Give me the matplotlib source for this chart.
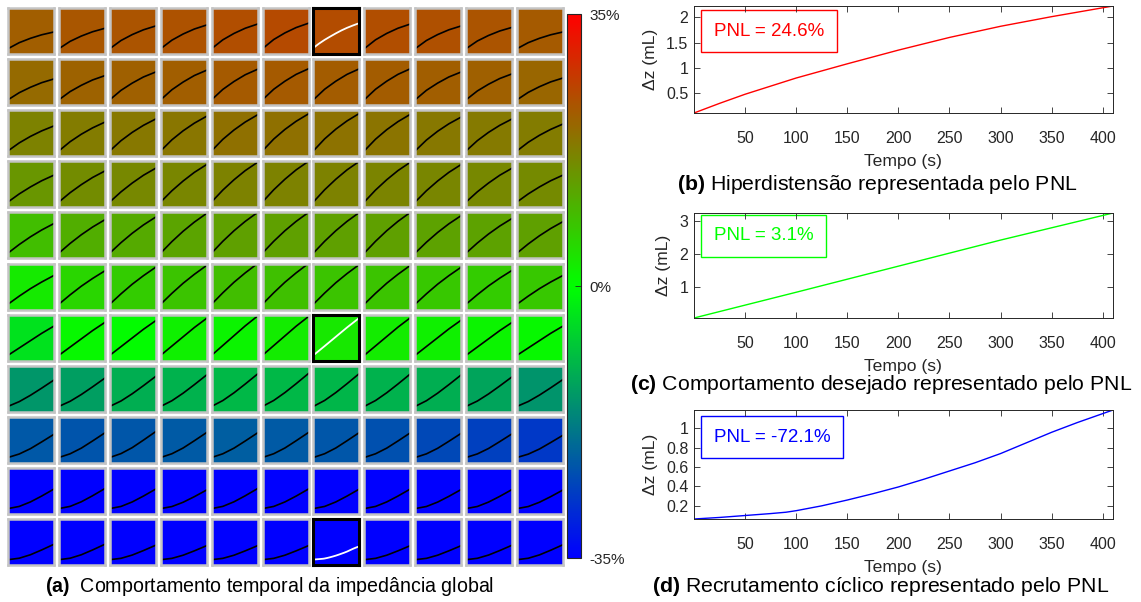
import numpy as np
import matplotlib.pyplot as plt
from matplotlib.colors import LinearSegmentedColormap, Normalize
from matplotlib.cm import ScalarMappable
from matplotlib.patches import Rectangle

plt.rcParams['font.family'] = ['Liberation Sans', 'DejaVu Sans']
plt.rcParams['mathtext.fontset'] = 'custom'
plt.rcParams['mathtext.rm'] = 'Liberation Sans'
plt.rcParams['mathtext.bf'] = 'Liberation Sans:bold'

# PNL (%) of every tile in the 11x11 grid (row 0 = top)
pnl = np.array([
    [22.0, 23.0, 23.3, 23.6, 24.3, 24.8, 24.6, 24.2, 23.8, 23.3, 22.5],
    [20.5, 21.5, 21.8, 22.0, 22.6, 22.6, 22.4, 22.2, 22.0, 21.8, 21.0],
    [17.2, 17.8, 18.5, 18.8, 19.5, 19.5, 19.3, 19.0, 18.5, 18.2, 17.8],
    [14.4, 15.8, 16.3, 16.5, 17.0, 17.0, 17.0, 16.8, 16.6, 16.4, 16.0],
    [8.9, 11.0, 11.7, 12.5, 13.0, 13.0, 13.0, 13.0, 12.6, 12.8, 13.0],
    [2.8, 5.5, 6.9, 8.2, 8.9, 8.5, 8.2, 8.0, 7.5, 6.9, 7.5],
    [-4.0, 1.0, 0.3, 2.0, 1.5, 2.5, 3.1, 2.5, 2.0, 1.5, 1.0],
    [-14.3, -13.3, -11.0, -10.5, -9.8, -9.8, -10.0, -10.5, -11.0, -12.5, -14.5],
    [-22.7, -23.3, -23.0, -22.5, -22.0, -22.5, -23.0, -24.0, -25.0, -26.0, -27.3],
    [-45, -47, -48, -50, -49, -50, -51, -50, -48, -46, -44],
    [-65, -66, -69, -70, -71, -72, -72.1, -71, -70, -68, -66],
])

# final delta-z (mL) of every tile curve
tile_end = np.array([
    [1.47, 1.78, 1.98, 2.06, 2.14, 2.21, 2.22, 2.14, 1.98, 1.86, 1.47],
    [1.82, 2.10, 2.41, 2.56, 2.64, 2.68, 2.68, 2.68, 2.41, 2.25, 1.90],
    [2.17, 2.49, 2.76, 2.99, 3.11, 3.19, 3.23, 3.15, 2.92, 2.76, 2.33],
    [2.33, 2.68, 2.92, 3.23, 3.42, 3.50, 3.50, 3.42, 3.23, 2.92, 2.33],
    [2.56, 2.88, 3.11, 3.42, 3.50, 3.50, 3.50, 3.50, 3.23, 2.99, 2.72],
    [2.49, 2.88, 3.19, 3.34, 3.50, 3.50, 3.42, 3.34, 3.19, 2.92, 2.49],
    [2.53, 2.84, 2.99, 3.19, 3.38, 3.34, 3.23, 3.23, 3.03, 2.84, 2.53],
    [2.29, 2.45, 2.60, 2.72, 2.80, 2.84, 2.84, 2.80, 2.72, 2.56, 2.33],
    [2.02, 2.14, 2.25, 2.17, 2.14, 2.17, 2.17, 2.14, 2.10, 2.06, 1.94],
    [1.71, 1.75, 1.71, 1.63, 1.75, 1.71, 1.71, 1.71, 1.67, 1.67, 1.63],
    [1.36, 1.36, 1.28, 1.24, 1.24, 1.24, 1.19, 1.24, 1.24, 1.28, 1.32],
])
tile_start = 0.05

# fraction of the rise reached at each tile time, one profile per row
tile_t = [0, 100, 200, 300, 410]
row_shape = np.array([
    [0, 0.36, 0.62, 0.83, 1],
    [0, 0.34, 0.60, 0.82, 1],
    [0, 0.32, 0.58, 0.80, 1],
    [0, 0.30, 0.56, 0.79, 1],
    [0, 0.29, 0.55, 0.78, 1],
    [0, 0.28, 0.54, 0.77, 1],
    [0, 0.25, 0.50, 0.75, 1],
    [0, 0.18, 0.42, 0.69, 1],
    [0, 0.15, 0.38, 0.67, 1],
    [0, 0.11, 0.34, 0.64, 1],
    [0, 0.095, 0.32, 0.63, 1],
])

# detail curves (b), (c), (d)
t_b = [0, 25, 50, 100, 150, 200, 250, 300, 350, 410]
z_b = [0.11, 0.30, 0.48, 0.80, 1.08, 1.35, 1.60, 1.82, 2.01, 2.22]
t_c = [0, 100, 200, 300, 410]
z_c = [0.05, 0.83, 1.62, 2.41, 3.23]
t_d = [0, 25, 50, 75, 90, 100, 125, 150, 175, 200, 225, 250, 275, 300, 325, 350, 375, 410]
z_d = [0.064, 0.08, 0.10, 0.12, 0.134, 0.15, 0.20, 0.26, 0.325, 0.395, 0.475, 0.56,
       0.645, 0.74, 0.85, 0.96, 1.06, 1.19]

highlight = {(0, 6): (t_b, z_b), (6, 6): (t_c, z_c), (10, 6): (t_d, z_d)}

W, H = 1141, 602
fig = plt.figure(figsize=(W / 100, H / 100), dpi=100)


def rect(x0, y0, w, h):
    return [x0 / W, 1 - (y0 + h) / H, w / W, h / H]


cmap = LinearSegmentedColormap.from_list('pnl', [(0, 0, 1), (0, 1, 0), (1, 0, 0)])
norm = Normalize(-35, 35, clip=True)

# grid of tiles
for r in range(11):
    for c in range(11):
        ax = fig.add_axes(rect(8 + c * 50.9, 8 + r * 51.1, 46, 46))
        ax.set_facecolor(cmap(norm(pnl[r, c])))
        if (r, c) in highlight:
            tt, zz = highlight[(r, c)]
            ax.plot(tt, zz, color='white', lw=1.3)
            ec, lw = 'black', 2.2
        else:
            zz = tile_start + (tile_end[r, c] - tile_start) * row_shape[r]
            ax.plot(tile_t, zz, color='black', lw=1.2)
            ec, lw = '#c4c4c4', 1.8
        ax.set_xlim(0, 410)
        ax.set_ylim(-0.4, 3.5)
        ax.set_xticks([])
        ax.set_yticks([])
        for s in ax.spines.values():
            s.set_color(ec)
            s.set_linewidth(lw)

# colorbar
cax = fig.add_axes(rect(567, 14, 14, 544))
cb = fig.colorbar(ScalarMappable(norm=norm, cmap=cmap), cax=cax)
cb.set_ticks([-35, 0, 35])
cb.set_ticklabels(['-35%', '0%', '35%'])
cax.tick_params(direction='in', length=4, width=0.6, labelsize=11,
                colors='#262626', pad=6)
cb.outline.set_linewidth(0.8)
cb.outline.set_edgecolor('#262626')

fig.text(270 / W, 1 - 587 / H,
         r'$\mathbf{(a)}$  Comportamento temporal da impedância global',
         ha='center', va='center', fontsize=14.1)

# detail panels
panels = [
    dict(box=(694, 6, 419, 107), t=t_b, z=z_b, color=(1, 0, 0),
         yticks=[0.5, 1, 1.5, 2], ylabels=['0.5', '1', '1.5', '2'],
         label='PNL = 24.6%', tbox=(701, 10, 136, 42),
         cap=r'$\mathbf{(b)}$ Hiperdistensão representada pelo PNL', capx=877, capy=184),
    dict(box=(694, 213, 419, 105), t=t_c, z=z_c, color=(0, 1, 0),
         yticks=[1, 2, 3], ylabels=['1', '2', '3'],
         label='PNL = 3.1%', tbox=(701, 215, 125, 42),
         cap=r'$\mathbf{(c)}$ Comportamento desejado representado pelo PNL', capx=881, capy=384),
    dict(box=(694, 410, 419, 109), t=t_d, z=z_d, color=(0, 0, 1),
         yticks=[0.2, 0.4, 0.6, 0.8, 1], ylabels=['0.2', '0.4', '0.6', '0.8', '1'],
         label='PNL = -72.1%', tbox=(701, 416, 142, 42),
         cap=r'$\mathbf{(d)}$ Recrutamento cíclico representado pelo PNL', capx=881, capy=587),
]

for p in panels:
    bx, by, bw, bh = p['box']
    ax = fig.add_axes(rect(bx, by, bw, bh))
    ax.plot(p['t'], p['z'], color=p['color'], lw=1.0)
    ax.set_xlim(0, 410)
    ax.set_ylim(p['z'][0], p['z'][-1])
    ax.set_xticks([50, 100, 150, 200, 250, 300, 350, 400])
    ax.set_yticks(p['yticks'])
    ax.set_yticklabels(p['ylabels'])
    ax.tick_params(direction='in', top=True, right=True, length=4, width=0.6,
                   labelsize=11.5, colors='#262626')
    ax.tick_params(axis='x', pad=13)
    ax.tick_params(axis='y', pad=4)
    for s in ax.spines.values():
        s.set_color('#262626')
        s.set_linewidth(0.7)
    ax.set_xlabel('Tempo (s)', fontsize=12.6, color='#262626', labelpad=6)
    ax.set_ylabel('Δz (mL)', fontsize=12.6, color='#262626', labelpad=6)
    tx, ty, tw, th = p['tbox']
    ax.add_patch(Rectangle(((tx - bx) / bw, 1 - (ty - by + th) / bh), tw / bw, th / bh,
                           transform=ax.transAxes, fill=False,
                           edgecolor=p['color'], lw=1.0))
    ax.text((tx - bx + tw / 2) / bw, 1 - (ty - by + th / 2) / bh, p['label'],
            transform=ax.transAxes, ha='center', va='center',
            fontsize=13.5, color=p['color'])
    fig.text(p['capx'] / W, 1 - p['capy'] / H, p['cap'], ha='center', va='center',
             fontsize=15.3)

fig.savefig('out.png', dpi=100)
